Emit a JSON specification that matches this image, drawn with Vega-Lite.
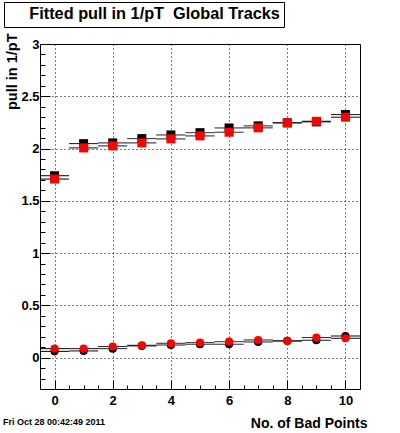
{
  "$schema": "https://vega.github.io/schema/vega-lite/v6.json",
  "autosize": {"type": "none"},
  "width": 320,
  "height": 345,
  "padding": {"left": 40, "top": 44, "right": 40, "bottom": 44},
  "background": "white",
  "config": {
    "font": "Liberation Sans",
    "view": {"stroke": "black", "strokeWidth": 1, "fill": "white"}
  },
  "title": {
    "text": "Fri Oct 28 00:42:49 2011",
    "orient": "bottom",
    "anchor": "start",
    "frame": "group",
    "font": "Liberation Sans",
    "fontSize": 9,
    "fontWeight": "bold",
    "color": "black",
    "offset": -12,
    "dx": -37
  },
  "data": {
    "values": [
      {"n": 0, "lo": -0.5, "hi": 0.5, "v": 0.060, "kind": "mean", "set": "A"},
      {"n": 1, "lo": 0.5, "hi": 1.5, "v": 0.064, "kind": "mean", "set": "A"},
      {"n": 2, "lo": 1.5, "hi": 2.5, "v": 0.086, "kind": "mean", "set": "A"},
      {"n": 3, "lo": 2.5, "hi": 3.5, "v": 0.112, "kind": "mean", "set": "A"},
      {"n": 4, "lo": 3.5, "hi": 4.5, "v": 0.121, "kind": "mean", "set": "A"},
      {"n": 5, "lo": 4.5, "hi": 5.5, "v": 0.128, "kind": "mean", "set": "A"},
      {"n": 6, "lo": 5.5, "hi": 6.5, "v": 0.128, "kind": "mean", "set": "A"},
      {"n": 7, "lo": 6.5, "hi": 7.5, "v": 0.150, "kind": "mean", "set": "A"},
      {"n": 8, "lo": 7.5, "hi": 8.5, "v": 0.160, "kind": "mean", "set": "A"},
      {"n": 9, "lo": 8.5, "hi": 9.5, "v": 0.166, "kind": "mean", "set": "A"},
      {"n": 10, "lo": 9.5, "hi": 10.5, "v": 0.207, "kind": "mean", "set": "A"},
      {"n": 0, "lo": -0.5, "hi": 0.5, "v": 1.740, "kind": "sigma", "set": "A"},
      {"n": 1, "lo": 0.5, "hi": 1.5, "v": 2.047, "kind": "sigma", "set": "A"},
      {"n": 2, "lo": 1.5, "hi": 2.5, "v": 2.054, "kind": "sigma", "set": "A"},
      {"n": 3, "lo": 2.5, "hi": 3.5, "v": 2.095, "kind": "sigma", "set": "A"},
      {"n": 4, "lo": 3.5, "hi": 4.5, "v": 2.130, "kind": "sigma", "set": "A"},
      {"n": 5, "lo": 4.5, "hi": 5.5, "v": 2.152, "kind": "sigma", "set": "A"},
      {"n": 6, "lo": 5.5, "hi": 6.5, "v": 2.197, "kind": "sigma", "set": "A"},
      {"n": 7, "lo": 6.5, "hi": 7.5, "v": 2.217, "kind": "sigma", "set": "A"},
      {"n": 8, "lo": 7.5, "hi": 8.5, "v": 2.246, "kind": "sigma", "set": "A"},
      {"n": 9, "lo": 8.5, "hi": 9.5, "v": 2.255, "kind": "sigma", "set": "A"},
      {"n": 10, "lo": 9.5, "hi": 10.5, "v": 2.325, "kind": "sigma", "set": "A"},
      {"n": 0, "lo": -0.5, "hi": 0.5, "v": 0.086, "kind": "mean", "set": "B"},
      {"n": 1, "lo": 0.5, "hi": 1.5, "v": 0.086, "kind": "mean", "set": "B"},
      {"n": 2, "lo": 1.5, "hi": 2.5, "v": 0.106, "kind": "mean", "set": "B"},
      {"n": 3, "lo": 2.5, "hi": 3.5, "v": 0.118, "kind": "mean", "set": "B"},
      {"n": 4, "lo": 3.5, "hi": 4.5, "v": 0.137, "kind": "mean", "set": "B"},
      {"n": 5, "lo": 4.5, "hi": 5.5, "v": 0.144, "kind": "mean", "set": "B"},
      {"n": 6, "lo": 5.5, "hi": 6.5, "v": 0.153, "kind": "mean", "set": "B"},
      {"n": 7, "lo": 6.5, "hi": 7.5, "v": 0.169, "kind": "mean", "set": "B"},
      {"n": 8, "lo": 7.5, "hi": 8.5, "v": 0.160, "kind": "mean", "set": "B"},
      {"n": 9, "lo": 8.5, "hi": 9.5, "v": 0.192, "kind": "mean", "set": "B"},
      {"n": 10, "lo": 9.5, "hi": 10.5, "v": 0.185, "kind": "mean", "set": "B"},
      {"n": 0, "lo": -0.5, "hi": 0.5, "v": 1.708, "kind": "sigma", "set": "B"},
      {"n": 1, "lo": 0.5, "hi": 1.5, "v": 2.006, "kind": "sigma", "set": "B"},
      {"n": 2, "lo": 1.5, "hi": 2.5, "v": 2.025, "kind": "sigma", "set": "B"},
      {"n": 3, "lo": 2.5, "hi": 3.5, "v": 2.054, "kind": "sigma", "set": "B"},
      {"n": 4, "lo": 3.5, "hi": 4.5, "v": 2.092, "kind": "sigma", "set": "B"},
      {"n": 5, "lo": 4.5, "hi": 5.5, "v": 2.121, "kind": "sigma", "set": "B"},
      {"n": 6, "lo": 5.5, "hi": 6.5, "v": 2.156, "kind": "sigma", "set": "B"},
      {"n": 7, "lo": 6.5, "hi": 7.5, "v": 2.198, "kind": "sigma", "set": "B"},
      {"n": 8, "lo": 7.5, "hi": 8.5, "v": 2.246, "kind": "sigma", "set": "B"},
      {"n": 9, "lo": 8.5, "hi": 9.5, "v": 2.261, "kind": "sigma", "set": "B"},
      {"n": 10, "lo": 9.5, "hi": 10.5, "v": 2.300, "kind": "sigma", "set": "B"}
    ]
  },
  "resolve": {"axis": {"x": "independent", "y": "independent"}},
  "layer": [
    {
      "mark": {"type": "rule", "color": "black", "strokeWidth": 1},
      "encoding": {
        "x": {
          "field": "lo", "type": "quantitative",
          "scale": {"domain": [-0.5, 10.5], "nice": false, "zero": false},
          "axis": {
            "orient": "bottom",
            "title": "No. of Bad Points",
            "titleAnchor": "end",
            "titleX": 327,
            "titleFont": "Liberation Sans",
            "titleFontSize": 14,
            "titleFontWeight": "bold",
            "titleColor": "black",
            "titlePadding": 9,
            "values": [0, 2, 4, 6, 8, 10],
            "labelExpr": "'' + datum.value",
            "labelFont": "Liberation Sans",
            "labelFontSize": 13,
            "labelFontWeight": "bold",
            "labelColor": "black",
            "labelPadding": 14,
            "domain": false,
            "tickColor": "black",
            "tickWidth": 1,
            "tickSize": -9,
            "grid": true,
            "gridColor": "black",
            "gridDash": [1, 3],
            "gridWidth": 1
          }
        },
        "x2": {"field": "hi"},
        "y": {
          "field": "v", "type": "quantitative",
          "scale": {"domain": [-0.3, 3], "nice": false, "zero": false},
          "axis": {
            "orient": "left",
            "title": "pull in 1/pT",
            "titleAnchor": "end",
            "titleFont": "Liberation Sans",
            "titleFontSize": 14.5,
            "titleFontWeight": "bold",
            "titleColor": "black",
            "titleY": -11,
            "titlePadding": 1,
            "values": [0, 0.5, 1, 1.5, 2, 2.5, 3],
            "labelExpr": "'' + datum.value",
            "labelFont": "Liberation Sans",
            "labelFontSize": 13,
            "labelFontWeight": "bold",
            "labelColor": "black",
            "labelPadding": 11,
            "domain": false,
            "tickColor": "black",
            "tickWidth": 1,
            "tickSize": -10,
            "grid": true,
            "gridColor": "black",
            "gridDash": [1, 3],
            "gridWidth": 1
          }
        },
        "strokeDash": {
          "datum": "Fitted pull in 1/pT \u00a0Global Tracks",
          "type": "nominal",
          "scale": {"range": [[1, 0]]},
          "legend": {
            "title": null,
            "orient": "none",
            "legendX": -36,
            "legendY": -42,
            "padding": 4,
            "strokeColor": "black",
            "fillColor": "white",
            "cornerRadius": 0,
            "symbolSize": 100,
            "symbolOpacity": 0,
            "symbolStrokeWidth": 0,
            "labelOffset": 5,
            "labelFont": "Liberation Sans",
            "labelFontSize": 16.3,
            "labelFontWeight": "bold",
            "labelColor": "black",
            "labelLimit": 400
          }
        }
      }
    },
    {
      "mark": {"type": "point", "filled": true, "opacity": 1, "strokeWidth": 0},
      "encoding": {
        "x": {
          "field": "n", "type": "quantitative",
          "axis": {
            "orient": "bottom",
            "title": null,
            "labels": false,
            "grid": false,
            "domain": false,
            "values": [0.5, 1, 1.5, 2.5, 3, 3.5, 4.5, 5, 5.5, 6.5, 7, 7.5, 8.5, 9, 9.5],
            "tickColor": "black",
            "tickWidth": 1,
            "tickSize": -4
          }
        },
        "y": {
          "field": "v", "type": "quantitative",
          "axis": {
            "orient": "left",
            "title": null,
            "labels": false,
            "grid": false,
            "domain": false,
            "values": [-0.2, -0.1, 0.1, 0.2, 0.3, 0.4, 0.6, 0.7, 0.8, 0.9, 1.1, 1.2, 1.3, 1.4, 1.6, 1.7, 1.8, 1.9, 2.1, 2.2, 2.3, 2.4, 2.6, 2.7, 2.8, 2.9],
            "tickColor": "black",
            "tickWidth": 1,
            "tickSize": -5
          }
        },
        "shape": {"field": "kind", "type": "nominal", "scale": {"domain": ["mean", "sigma"], "range": ["circle", "square"]}, "legend": null},
        "size": {"field": "kind", "type": "nominal", "scale": {"domain": ["mean", "sigma"], "range": [66, 81]}, "legend": null},
        "color": {"field": "set", "type": "nominal", "scale": {"domain": ["A", "B"], "range": ["#000000", "#ff0000"]}, "legend": null}
      }
    }
  ]
}
